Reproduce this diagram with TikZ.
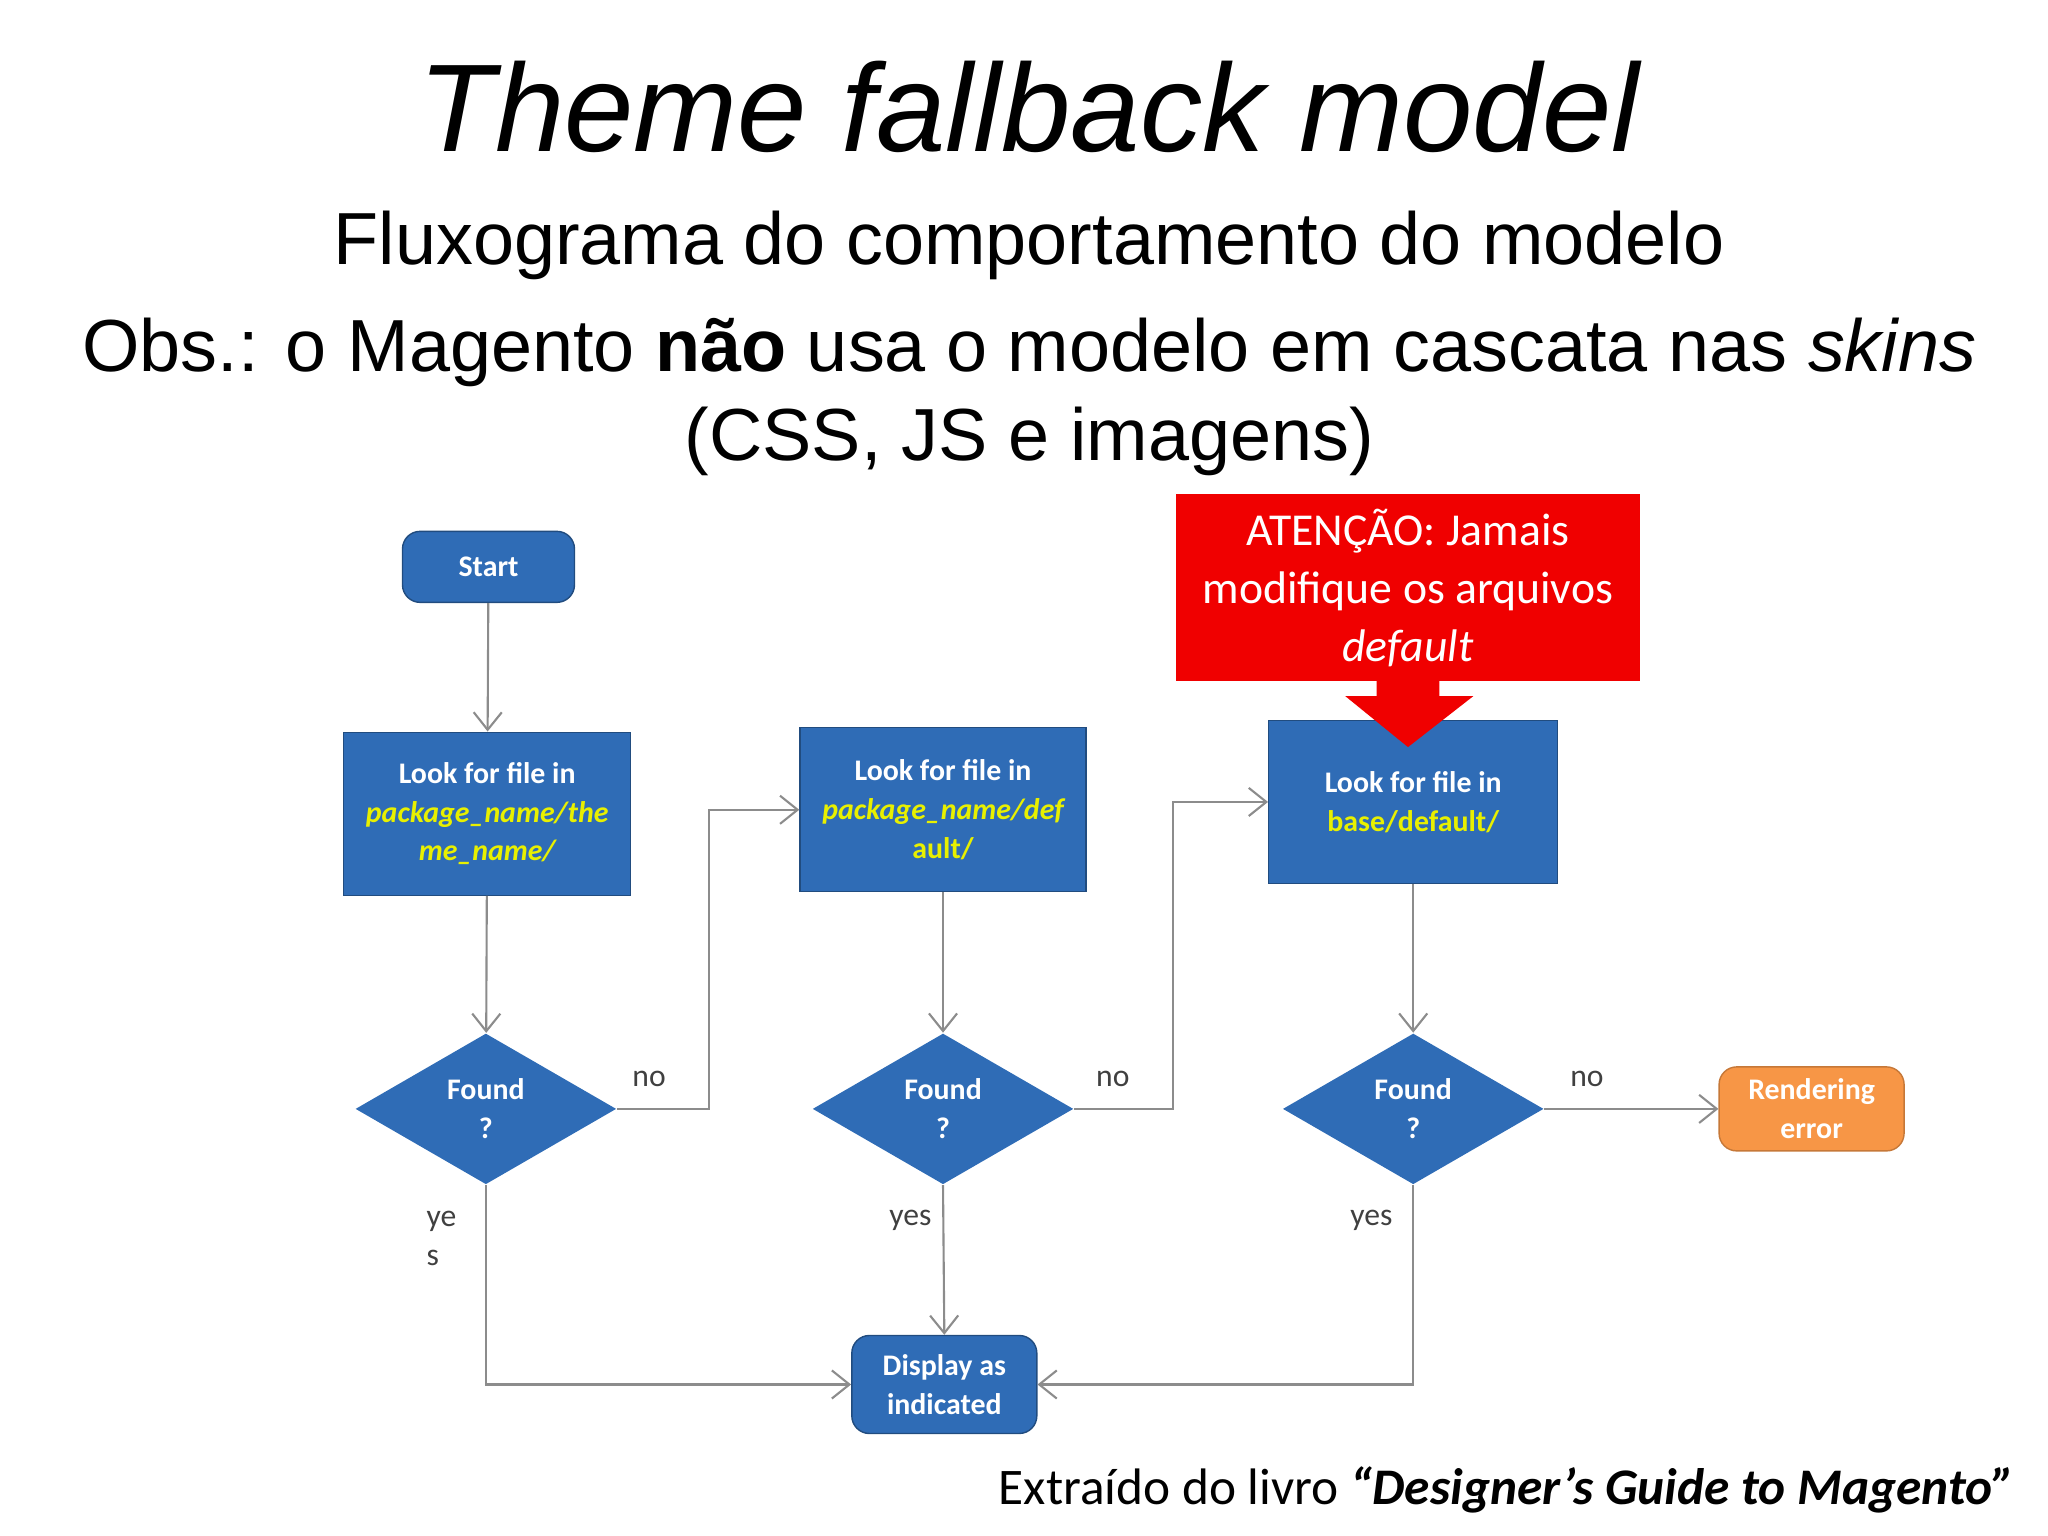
\documentclass[tikz,border=0pt]{standalone}
\usepackage{fontspec}
\setmainfont{Liberation Sans}
\newfontfamily\carl{Carlito}
\usetikzlibrary{shapes.geometric,arrows.meta}
\definecolor{bl}{RGB}{47,108,182}
\definecolor{or}{RGB}{247,150,70}
\definecolor{rd}{RGB}{240,0,0}
\definecolor{yl}{RGB}{232,240,0}
\definecolor{ln}{RGB}{140,140,140}
\begin{document}
\begin{tikzpicture}[x=0.01306cm,y=-0.01306cm,
 bx/.style={fill=bl,draw=bl!70!black,text=white,font=\carl\bfseries\fontsize{8.5}{11}\selectfont,align=center,inner sep=1pt},
 rbx/.style={bx,rounded corners=5pt},
 dm/.style={diamond,aspect=1.72,fill=bl,text=white,font=\carl\bfseries\fontsize{8.5}{11}\selectfont,align=center,inner sep=0pt,minimum width=2.61cm,minimum height=1.51cm},
 ar/.style={draw=ln,line width=0.6pt,-{Straight Barb[length=5pt,width=8pt]}},
 lb/.style={font=\carl\fontsize{9}{11}\selectfont,text=black!75}]
\useasboundingbox (0,0) rectangle (1568,1176);
\node[font=\itshape\fontsize{35.5}{42}\selectfont] (t) at (788,82) {Theme fallback model};
\node[font=\fontsize{21}{25}\selectfont] (s) at (788,188) {Fluxograma do comportamento do modelo};
\node[font=\fontsize{21}{25}\selectfont] (o) at (788,270) {Obs.: o Magento \textbf{não} usa o modelo em cascata nas \textit{skins}};
\node[font=\fontsize{21}{25}\selectfont] (o2) at (788,338) {(CSS, JS e imagens)};
\node[rbx,minimum width=1.72cm,minimum height=0.71cm] (st) at (374,434) {Start};
\node[bx,minimum width=2.87cm,minimum height=1.63cm] (b1) at (373,623) {Look for file in\\\textcolor{yl}{\itshape package\_name/the}\\\textcolor{yl}{\itshape me\_name/}};
\node[bx,minimum width=2.86cm,minimum height=1.64cm] (b2) at (722,620) {Look for file in\\\textcolor{yl}{\itshape package\_name/def}\\\textcolor{yl}{ault/}};
\node[bx,minimum width=2.89cm,minimum height=1.63cm] (b3) at (1082,614) {Look for file in\\\textcolor{yl}{base/default/}};
\node[dm] (d1) at (372,849) {Found\\?};
\node[dm] (d2) at (722,849) {Found\\?};
\node[dm] (d3) at (1082,849) {Found\\?};
\node[rbx,fill=or,draw=or!80!black,minimum width=1.85cm,minimum height=0.84cm] (re) at (1387,849) {Rendering\\error};
\node[rbx,minimum width=1.85cm,minimum height=0.98cm] (di) at (723,1060) {Display as\\indicated};
\node[fill=rd,text=white,minimum width=4.64cm,minimum height=1.87cm,align=center,font=\carl\fontsize{13}{16.5}\selectfont] (at) at (1078,450) {ATENÇÃO: Jamais\\modifique os arquivos\\\textit{default}};
\fill[rd] (1054,521) -- (1054,533) -- (1030,533) -- (1078,572) -- (1128,533) -- (1102,533) -- (1102,521) -- cycle;
\draw[ar] (st) -- (b1);
\draw[ar] (b1) -- (d1);
\draw[ar] (b2) -- (d2);
\draw[ar] (b3) -- (d3);
\draw[ar] (d1.east) -- (543,849) |- (b2.west);
\draw[ar] (d2.east) -- (898,849) |- (b3.west);
\draw[ar] (d3.east) -- (re.west);
\draw[ar] (d1.south) |- (di.west);
\draw[ar] (d2.south) -- (di.north);
\draw[ar] (d3.south) |- (di.east);
\node[lb] (n1) at (497,826) {no};
\node[lb] (n2) at (852,826) {no};
\node[lb] (n3) at (1215,826) {no};
\node[lb,align=left] (y1) at (338,948) {ye\\s};
\node[lb] (y2) at (697,934) {yes};
\node[lb] (y3) at (1050,934) {yes};
\node[anchor=east,font=\carl\fontsize{14.6}{18}\selectfont] (f) at (1552,1141) {Extraído do livro \textbf{\textit{“Designer’s Guide to Magento”}}};
\end{tikzpicture}
\end{document}
